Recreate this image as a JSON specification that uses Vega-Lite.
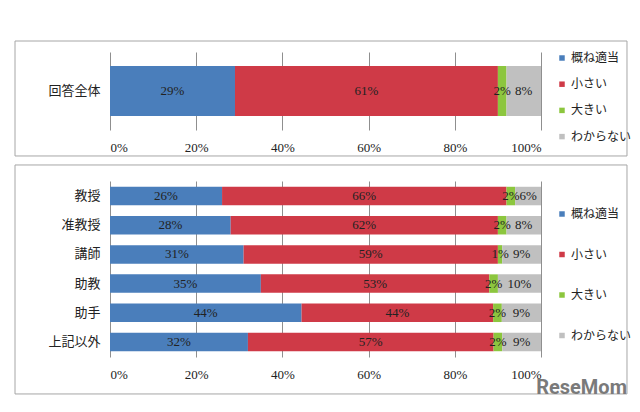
{
  "$schema": "https://vega.github.io/schema/vega-lite/v6.json",
  "background": "white",
  "padding": {"left": 14, "top": 40, "right": 5, "bottom": 5},
  "spacing": 7,
  "config": {
    "view": {"stroke": null},
    "font": "Liberation Serif, Noto Sans CJK JP",
    "axis": {"labelFont": "Liberation Serif, Noto Sans CJK JP", "labelColor": "#222222"},
    "legend": {"labelFont": "Liberation Serif, Noto Sans CJK JP", "labelColor": "#222222"}
  },
  "datasets": {
    "all": [
      {"cat": "回答全体", "series": "概ね適当", "o": 1, "value": 29},
      {"cat": "回答全体", "series": "小さい", "o": 2, "value": 61},
      {"cat": "回答全体", "series": "大きい", "o": 3, "value": 2},
      {"cat": "回答全体", "series": "わからない", "o": 4, "value": 8}
    ],
    "pos": [
      {"cat": "教授", "series": "概ね適当", "o": 1, "value": 26},
      {"cat": "教授", "series": "小さい", "o": 2, "value": 66},
      {"cat": "教授", "series": "大きい", "o": 3, "value": 2},
      {"cat": "教授", "series": "わからない", "o": 4, "value": 6},
      {"cat": "准教授", "series": "概ね適当", "o": 1, "value": 28},
      {"cat": "准教授", "series": "小さい", "o": 2, "value": 62},
      {"cat": "准教授", "series": "大きい", "o": 3, "value": 2},
      {"cat": "准教授", "series": "わからない", "o": 4, "value": 8},
      {"cat": "講師", "series": "概ね適当", "o": 1, "value": 31},
      {"cat": "講師", "series": "小さい", "o": 2, "value": 59},
      {"cat": "講師", "series": "大きい", "o": 3, "value": 1},
      {"cat": "講師", "series": "わからない", "o": 4, "value": 9},
      {"cat": "助教", "series": "概ね適当", "o": 1, "value": 35},
      {"cat": "助教", "series": "小さい", "o": 2, "value": 53},
      {"cat": "助教", "series": "大きい", "o": 3, "value": 2},
      {"cat": "助教", "series": "わからない", "o": 4, "value": 10},
      {"cat": "助手", "series": "概ね適当", "o": 1, "value": 44},
      {"cat": "助手", "series": "小さい", "o": 2, "value": 44},
      {"cat": "助手", "series": "大きい", "o": 3, "value": 2},
      {"cat": "助手", "series": "わからない", "o": 4, "value": 9},
      {"cat": "上記以外", "series": "概ね適当", "o": 1, "value": 32},
      {"cat": "上記以外", "series": "小さい", "o": 2, "value": 57},
      {"cat": "上記以外", "series": "大きい", "o": 3, "value": 2},
      {"cat": "上記以外", "series": "わからない", "o": 4, "value": 9}
    ]
  },
  "resolve": {
    "scale": {"x": "independent", "y": "independent", "color": "independent"},
    "legend": {"color": "independent"},
    "axis": {"x": "independent", "y": "independent"}
  },
  "vconcat": [
    {
      "width": 431,
      "height": 78,
      "resolve": {"scale": {"x": "independent", "y": "independent"}, "axis": {"x": "independent", "y": "independent"}},
      "layer": [
        {
          "data": {"values": [{}]},
          "mark": {"type": "rect", "fill": "transparent", "stroke": "#a6a6a6", "strokeWidth": 1},
          "encoding": {
            "x": {"datum": -0.2204, "type": "quantitative", "scale": {"domain": [0, 1], "nice": false, "zero": false}, "axis": null},
            "x2": {"datum": 1.1995},
            "y": {"datum": -0.333, "type": "quantitative", "scale": {"domain": [0, 1], "nice": false, "zero": false}, "axis": null},
            "y2": {"datum": 1.141}
          }
        },
        {
          "data": {"name": "all"},
          "transform": [{"calculate": "datum.value + '%'", "as": "label"}],
          "encoding": {
            "y": {"field": "cat", "type": "nominal", "sort": null,
                  "scale": {"paddingInner": 0, "paddingOuter": 0.28},
                  "axis": {"title": null, "ticks": false, "domain": false, "labelFontSize": 13, "labelPadding": 10}},
            "x": {"field": "value", "type": "quantitative", "stack": "normalize",
                  "scale": {"domain": [0, 1], "nice": false},
                  "axis": {"title": null, "values": [0, 0.2, 0.4, 0.6, 0.8, 1], "format": ".0%", "grid": true, "gridColor": "#8f8f8f", "ticks": false, "domain": false, "labelFontSize": 13, "labelPadding": 11}},
            "order": {"field": "o", "type": "quantitative"}
          },
          "layer": [
            {
              "mark": {"type": "bar"},
              "encoding": {
                "color": {"field": "series", "type": "nominal",
                  "scale": {"domain": ["概ね適当", "小さい", "大きい", "わからない"], "range": ["#4a7ebb", "#cf3a47", "#8cc63e", "#c0c0c0"]},
                  "legend": {"title": null, "orient": "none", "legendX": 446, "legendY": 0, "rowPadding": 14.2, "padding": 0,
                    "symbolType": "square", "symbolSize": 30, "symbolStrokeWidth": 0, "labelFontSize": 12, "labelOffset": 3}}
              }
            },
            {
              "mark": {"type": "text", "fontSize": 13, "color": "#222222"},
              "encoding": {
                "x": {"field": "value", "type": "quantitative", "stack": "normalize", "bandPosition": 0.5},
                "text": {"field": "label"},
                "detail": {"field": "series"}
              }
            }
          ]
        }
      ]
    },
    {
      "width": 431,
      "height": 176,
      "resolve": {"scale": {"x": "independent", "y": "independent"}, "axis": {"x": "independent", "y": "independent"}},
      "layer": [
        {
          "data": {"values": [{}]},
          "mark": {"type": "rect", "fill": "transparent", "stroke": "#a6a6a6", "strokeWidth": 1},
          "encoding": {
            "x": {"datum": -0.2204, "type": "quantitative", "scale": {"domain": [0, 1], "nice": false, "zero": false}, "axis": null},
            "x2": {"datum": 1.1995},
            "y": {"datum": -0.21, "type": "quantitative", "scale": {"domain": [0, 1], "nice": false, "zero": false}, "axis": null},
            "y2": {"datum": 1.091}
          }
        },
        {
          "data": {"values": [{"t": "ReseMom"}]},
          "mark": {"type": "text", "align": "right", "baseline": "alphabetic", "fontSize": 20, "fontWeight": "bold", "font": "Roboto", "color": "#7a7a7a", "dx": 0},
          "encoding": {
            "x": {"datum": 1.1995, "type": "quantitative", "scale": {"domain": [0, 1], "nice": false, "zero": false}, "axis": null},
            "y": {"datum": -0.21, "type": "quantitative", "scale": {"domain": [0, 1], "nice": false, "zero": false}, "axis": null},
            "text": {"field": "t"}
          }
        },
        {
          "data": {"name": "pos"},
          "transform": [{"calculate": "datum.value + '%'", "as": "label"}],
          "encoding": {
            "y": {"field": "cat", "type": "nominal", "sort": ["教授", "准教授", "講師", "助教", "助手", "上記以外"],
                  "scale": {"paddingInner": 0.366, "paddingOuter": 0.198},
                  "axis": {"title": null, "ticks": false, "domain": false, "labelFontSize": 13, "labelPadding": 10}},
            "x": {"field": "value", "type": "quantitative", "stack": "normalize",
                  "scale": {"domain": [0, 1], "nice": false},
                  "axis": {"title": null, "values": [0, 0.2, 0.4, 0.6, 0.8, 1], "format": ".0%", "grid": true, "gridColor": "#8f8f8f", "ticks": false, "domain": false, "labelFontSize": 13, "labelPadding": 11}},
            "order": {"field": "o", "type": "quantitative"}
          },
          "layer": [
            {
              "mark": {"type": "bar"},
              "encoding": {
                "color": {"field": "series", "type": "nominal",
                  "scale": {"domain": ["概ね適当", "小さい", "大きい", "わからない"], "range": ["#4a7ebb", "#cf3a47", "#8cc63e", "#c0c0c0"]},
                  "legend": {"title": null, "orient": "none", "legendX": 446, "legendY": 27, "rowPadding": 28.5, "padding": 0,
                    "symbolType": "square", "symbolSize": 30, "symbolStrokeWidth": 0, "labelFontSize": 12, "labelOffset": 3}}
              }
            },
            {
              "mark": {"type": "text", "fontSize": 13, "color": "#222222"},
              "encoding": {
                "x": {"field": "value", "type": "quantitative", "stack": "normalize", "bandPosition": 0.5},
                "text": {"field": "label"},
                "detail": {"field": "series"}
              }
            }
          ]
        }
      ]
    }
  ]
}
